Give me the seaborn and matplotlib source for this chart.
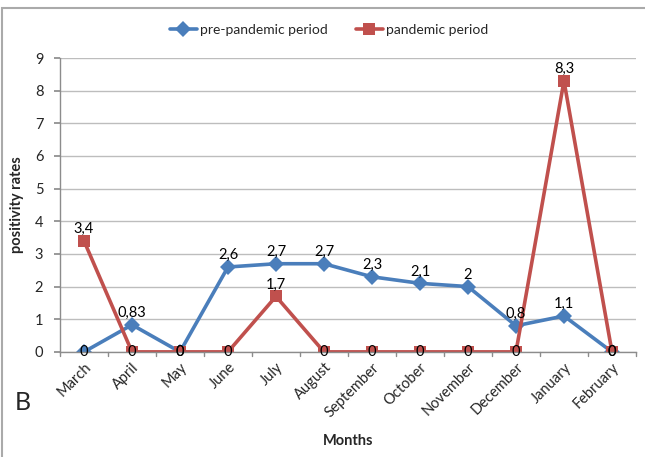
import matplotlib
matplotlib.use("Agg")
import matplotlib.pyplot as plt
import seaborn as sns
import pandas as pd
from matplotlib.patches import Rectangle

months = ["March", "April", "May", "June", "July", "August", "September",
          "October", "November", "December", "January", "February"]
pre_pandemic = [0, 0.83, 0, 2.6, 2.7, 2.7, 2.3, 2.1, 2.0, 0.8, 1.1, 0]
pandemic = [3.4, 0, 0, 0, 1.7, 0, 0, 0, 0, 0, 8.3, 0]
pre_labels = ["0", "0,83", "0", "2,6", "2,7", "2,7", "2,3", "2,1", "2", "0,8", "1,1", "0"]
pan_labels = ["3,4", "0", "0", "0", "1,7", "0", "0", "0", "0", "0", "8,3", "0"]
series_names = ["pre-pandemic period", "pandemic period"]
yticks = list(range(0, 10))

sns.set_theme(style="white")
plt.rcParams["font.family"] = ["Lato", "DejaVu Sans"]

df = pd.DataFrame({
    "month": months * 2,
    "value": pre_pandemic + pandemic,
    "series": [series_names[0]] * 12 + [series_names[1]] * 12,
})

colors = {series_names[0]: "#4A7EBB", series_names[1]: "#C0504D"}
fig = plt.figure(figsize=(6.45, 4.57), dpi=100)
ax = fig.add_axes([0.093, 0.230, 0.893, 0.643])

sns.lineplot(data=df, x="month", y="value", hue="series", style="series",
             markers={series_names[0]: "D", series_names[1]: "s"}, dashes=False,
             palette=colors, sort=False, linewidth=2.6, markersize=8,
             markeredgewidth=0, ax=ax)

ax.set_xlim(-0.5, 11.5)
ax.set_ylim(0, 9)
ax.set_yticks(yticks)
ax.set_yticklabels([str(t) for t in yticks], fontsize=10.5)
ax.yaxis.grid(True, color="#BDBDBD", linewidth=1)
ax.set_axisbelow(True)
for s in ["top", "right"]:
    ax.spines[s].set_visible(False)
for s in ["left", "bottom"]:
    ax.spines[s].set_color("#8C8C8C")
    ax.spines[s].set_linewidth(1)

ax.set_xticks(range(12))
ax.set_xticklabels(months, rotation=45, ha="right", rotation_mode="anchor", fontsize=10.5)
ax.tick_params(axis="x", length=0, pad=6)
ax.tick_params(axis="y", length=4, color="#8C8C8C", direction="out", left=True, pad=8)
for b in [i - 0.5 for i in range(13)]:
    ax.plot([b, b], [0, -0.12], color="#8C8C8C", lw=1, clip_on=False)

ax.set_xlabel("Months", fontsize=10.5, fontweight="bold", labelpad=10)
ax.set_ylabel("positivity rates", fontsize=10.5, fontweight="bold", labelpad=8)

fs = 10.5
for i, (v, lab) in enumerate(zip(pre_pandemic, pre_labels)):
    if v == 0:
        ax.text(i, v, lab, ha="center", va="center", fontsize=fs, color="black")
    else:
        ax.text(i, v + 0.15, lab, ha="center", va="bottom", fontsize=fs, color="black")
for i, (v, lab) in enumerate(zip(pandemic, pan_labels)):
    if v == 0:
        ax.text(i, v, lab, ha="center", va="center", fontsize=fs, color="black", zorder=10)
    else:
        ax.text(i, v + 0.15, lab, ha="center", va="bottom", fontsize=fs, color="black")

handles, labels = ax.get_legend_handles_labels()
leg = ax.legend(handles, labels, loc="center", bbox_to_anchor=(0.51, 0.935),
                bbox_transform=fig.transFigure, ncol=2, frameon=False,
                fontsize=10, handlelength=2.0, columnspacing=2.0, handletextpad=0.2)

fig.text(0.023, 0.12, "B", fontsize=18, ha="left", va="center")
fig.patches.append(Rectangle((0.003, -0.05), 1.2, 1 - 8 / 457 + 0.05,
                             transform=fig.transFigure, fill=False,
                             edgecolor="#AAAAAA", linewidth=1.5))

fig.savefig("out.png", dpi=100)
